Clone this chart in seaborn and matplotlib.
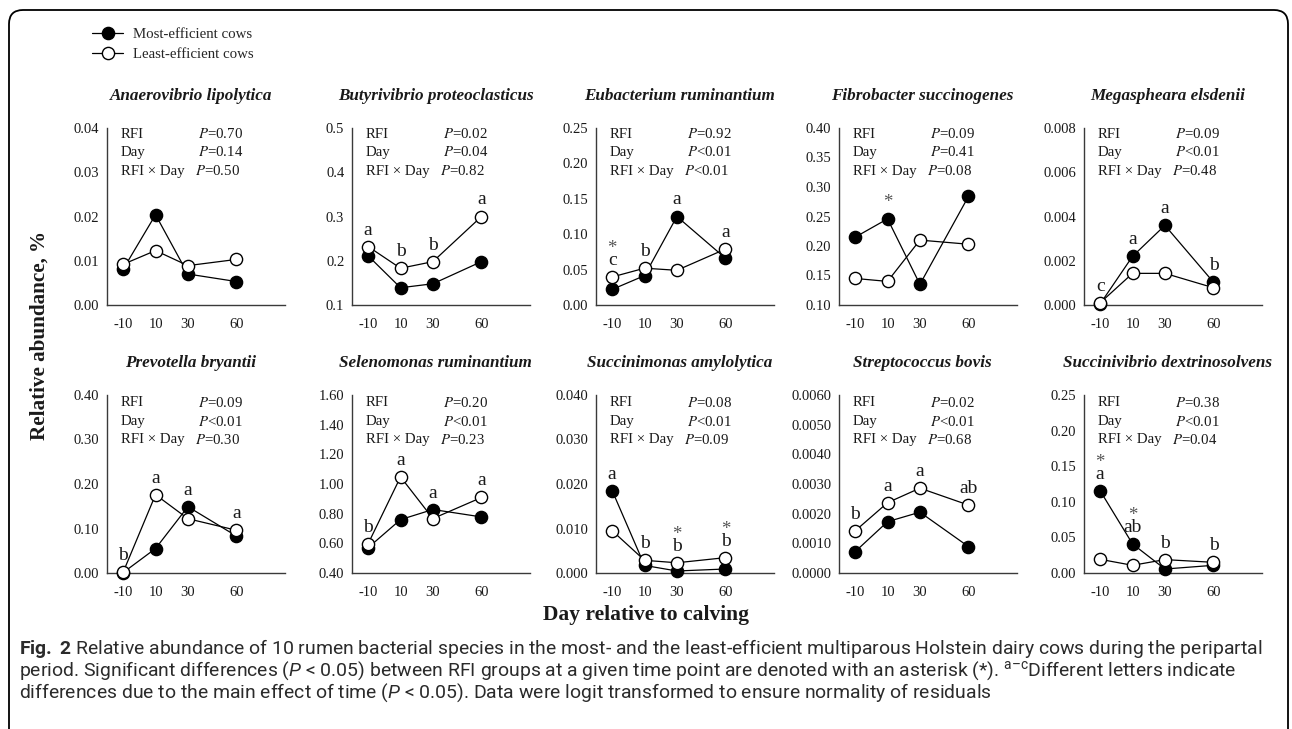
import matplotlib
matplotlib.use("Agg")
import matplotlib.pyplot as plt
from matplotlib.lines import Line2D
from matplotlib.patches import FancyBboxPatch
import seaborn as sns

# x positions (day relative to calving)
DAYS = [-10, 10, 30, 60]
DAY_LABELS = ["-10", "10", "30", "60"]

SPECIES = [
    "Anaerovibrio lipolytica",
    "Butyrivibrio proteoclasticus",
    "Eubacterium ruminantium",
    "Fibrobacter succinogenes",
    "Megaspheara elsdenii",
    "Prevotella bryantii",
    "Selenomonas ruminantium",
    "Succinimonas amylolytica",
    "Streptococcus bovis",
    "Succinivibrio dextrinosolvens",
]

# most-efficient cows (filled circles)
MOST = [
    [0.0081, 0.0204, 0.0070, 0.0053],
    [0.211, 0.139, 0.148, 0.198],
    [0.022, 0.0415, 0.125, 0.066],
    [0.215, 0.246, 0.135, 0.284],
    [0.00005, 0.0022, 0.0036, 0.00103],
    [0.001, 0.055, 0.149, 0.083],
    [0.571, 0.760, 0.828, 0.778],
    [0.0185, 0.0017, 0.00045, 0.0009],
    [0.00072, 0.00173, 0.00205, 0.00089],
    [0.1154, 0.0408, 0.0056, 0.0108],
]

# least-efficient cows (open circles)
LEAST = [
    [0.0092, 0.0123, 0.0089, 0.0103],
    [0.232, 0.183, 0.198, 0.300],
    [0.0396, 0.052, 0.049, 0.079],
    [0.145, 0.140, 0.210, 0.203],
    [0.0001, 0.00143, 0.00143, 0.00078],
    [0.002, 0.176, 0.122, 0.096],
    [0.598, 1.048, 0.767, 0.909],
    [0.0095, 0.00285, 0.0023, 0.00345],
    [0.00142, 0.00237, 0.00286, 0.00229],
    [0.0192, 0.0108, 0.0188, 0.015],
]

Y_TICKS = [
    ["0.00", "0.01", "0.02", "0.03", "0.04"],
    ["0.1", "0.2", "0.3", "0.4", "0.5"],
    ["0.00", "0.05", "0.10", "0.15", "0.20", "0.25"],
    ["0.10", "0.15", "0.20", "0.25", "0.30", "0.35", "0.40"],
    ["0.000", "0.002", "0.004", "0.006", "0.008"],
    ["0.00", "0.10", "0.20", "0.30", "0.40"],
    ["0.40", "0.60", "0.80", "1.00", "1.20", "1.40", "1.60"],
    ["0.000", "0.010", "0.020", "0.030", "0.040"],
    ["0.0000", "0.0010", "0.0020", "0.0030", "0.0040", "0.0050", "0.0060"],
    ["0.00", "0.05", "0.10", "0.15", "0.20", "0.25"],
]

STAT_NAMES = ["RFI", "Day", "RFI \u00d7 Day"]
STATS = [
    ["=0.70", "=0.14", "=0.50"],
    ["=0.02", "=0.04", "=0.82"],
    ["=0.92", "<0.01", "<0.01"],
    ["=0.09", "=0.41", "=0.08"],
    ["=0.09", "<0.01", "=0.48"],
    ["=0.09", "<0.01", "=0.30"],
    ["=0.20", "<0.01", "=0.23"],
    ["=0.08", "<0.01", "=0.09"],
    ["=0.02", "<0.01", "=0.68"],
    ["=0.38", "<0.01", "=0.04"],
]

LETTERS = [
    ["", "", "", ""],
    ["a", "b", "b", "a"],
    ["c", "b", "a", "a"],
    ["", "", "", ""],
    ["c", "a", "a", "b"],
    ["b", "a", "a", "a"],
    ["b", "a", "a", "a"],
    ["a", "b", "b", "b"],
    ["b", "a", "a", "ab"],
    ["a", "ab", "b", "b"],
]

STARS = [
    [0, 0, 0, 0],
    [0, 0, 0, 0],
    [1, 0, 0, 0],
    [0, 1, 0, 0],
    [0, 0, 0, 0],
    [0, 0, 0, 0],
    [0, 0, 0, 0],
    [0, 0, 1, 1],
    [0, 0, 0, 0],
    [1, 1, 0, 0],
]

LEGEND_LABELS = ["Most-efficient cows", "Least-efficient cows"]
X_LABEL = "Day relative to calving"
Y_LABEL = "Relative abundance, %"
CAPTION = [
    r"$\mathbf{Fig.}$ $\mathbf{2}$ Relative abundance of 10 rumen bacterial species in the most- and the "
    r"least-efficient multiparous Holstein dairy cows during the peripartal",
    r"period. Significant differences ($P$ < 0.05) between RFI groups at a given time point are denoted "
    r"with an asterisk (*). $^{\mathrm{a–c}}$Different letters indicate",
    r"differences due to the main effect of time ($P$ < 0.05). Data were logit transformed to ensure "
    r"normality of residuals",
]

sns.set_theme(style="white")
plt.rcParams["font.family"] = ["Liberation Serif", "DejaVu Serif"]
plt.rcParams["axes.unicode_minus"] = False
plt.rcParams["mathtext.fontset"] = "custom"
plt.rcParams["mathtext.rm"] = "Roboto"
plt.rcParams["mathtext.it"] = "Roboto:italic"
plt.rcParams["mathtext.bf"] = "Roboto:bold"

W, H = 1292, 729
fig = plt.figure(figsize=(W / 100, H / 100), dpi=100)

AX_LEFTS = [107, 352, 596, 839, 1084]
AX_WIDTH = 178
ROWS = [(128, 305), (395, 573)]
AXIS_COLOR = "#3a3a3a"
TEXT_COLOR = "#1a1a1a"

for i, name in enumerate(SPECIES):
    r, c = divmod(i, 5)
    top, bottom = ROWS[r]
    ax = fig.add_axes([AX_LEFTS[c] / W, 1 - bottom / H, AX_WIDTH / W, (bottom - top) / H])

    sns.lineplot(x=DAYS, y=MOST[i], ax=ax, color="black", linewidth=0.9,
                 marker="o", markersize=8.8, markerfacecolor="black",
                 markeredgecolor="black", markeredgewidth=1.0,
                 clip_on=False, zorder=3)
    sns.lineplot(x=DAYS, y=LEAST[i], ax=ax, color="black", linewidth=0.9,
                 marker="o", markersize=8.8, markerfacecolor="white",
                 markeredgecolor="black", markeredgewidth=1.0,
                 clip_on=False, zorder=4)

    yt = [float(t) for t in Y_TICKS[i]]
    ax.set_ylim(yt[0], yt[-1])
    ax.set_yticks(yt)
    ax.set_yticklabels(Y_TICKS[i])
    ax.set_xlim(-20, 90)
    ax.set_xticks(DAYS)
    ax.set_xticklabels(DAY_LABELS)
    ax.set_xlabel("")
    ax.set_ylabel("")
    ax.tick_params(axis="x", direction="in", length=4, width=0.8,
                   color=AXIS_COLOR, pad=9, labelsize=10.5, labelcolor=TEXT_COLOR)
    ax.tick_params(axis="y", length=0, pad=5.5, labelsize=10.5, labelcolor=TEXT_COLOR)
    sns.despine(ax=ax)
    for s in ["left", "bottom"]:
        ax.spines[s].set_color(AXIS_COLOR)
        ax.spines[s].set_linewidth(1.0)
    ax.patch.set_alpha(0)

    ax.set_title(name, fontstyle="italic", fontweight="bold", fontsize=12.3,
                 x=0.47, pad=20, color=TEXT_COLOR)

    # ANOVA p-values
    for k, (lab, p) in enumerate(zip(STAT_NAMES, STATS[i])):
        y_off = -6 - 18.5 * k if r == 0 else -8 - 18.5 * k
        ax.annotate(lab, xy=(0, 1), xycoords="axes fraction", xytext=(14, y_off),
                    textcoords="offset pixels", ha="left", va="center",
                    fontsize=10.7, color=TEXT_COLOR)
        ax.annotate("$P$" + p, xy=(0, 1), xycoords="axes fraction",
                    xytext=(136 - (3 if k == 2 else 0), y_off),
                    textcoords="offset pixels", ha="right", va="center",
                    fontsize=10.7, color=TEXT_COLOR, math_fontfamily="stix")

    # letters and asterisks
    for d, m, l, lt, st in zip(DAYS, MOST[i], LEAST[i], LETTERS[i], STARS[i]):
        y_top = max(m, l)
        if lt:
            ax.annotate(lt, xy=(d, y_top), xytext=(0, 16.5), textcoords="offset pixels",
                        ha="center", va="center", fontsize=14, color=TEXT_COLOR,
                        annotation_clip=False)
        if st:
            ax.annotate("*", xy=(d, y_top), xytext=(0, 28 if lt else 16),
                        textcoords="offset pixels", ha="center", va="center",
                        fontsize=13.5, color="#555555", annotation_clip=False)

# legend
handles = [
    Line2D([], [], color="black", linewidth=0.9, marker="o", markersize=8.8,
           markerfacecolor="black", markeredgecolor="black"),
    Line2D([], [], color="black", linewidth=0.9, marker="o", markersize=8.8,
           markerfacecolor="white", markeredgecolor="black"),
]
fig.legend(handles, LEGEND_LABELS, loc="upper left", bbox_to_anchor=(92 / W, 1 - 28 / H),
           frameon=False, fontsize=10.7, handlelength=2.1, handletextpad=0.65,
           labelspacing=0.42, borderpad=0, borderaxespad=0)

fig.text(40 / W, 1 - 335 / H, Y_LABEL, rotation=90, ha="center", va="center",
         fontsize=15.2, fontweight="bold", color=TEXT_COLOR)
fig.text(646 / W, 1 - 615 / H, X_LABEL, ha="center", va="center",
         fontsize=15.5, fontweight="bold", color=TEXT_COLOR)

# caption, sized so the first line spans the box
renderer = fig.canvas.get_renderer()
probe = fig.text(0, 0, CAPTION[0], fontsize=12, math_fontfamily="custom",
                 family=["Liberation Sans Narrow", "Roboto"])
cap_size = 12 * 1243 / probe.get_window_extent(renderer).width
probe.remove()
for k, line in enumerate(CAPTION):
    fig.text(19 / W, 1 - (649 + 22 * k) / H, line, ha="left", va="center",
             fontsize=cap_size, math_fontfamily="custom", color="#2b2b2b",
             family=["Liberation Sans Narrow", "Roboto"])

# rounded frame
frame = FancyBboxPatch((0.09, -0.3), 12.79, 7.49,
                       boxstyle="round,pad=0,rounding_size=0.14",
                       transform=fig.dpi_scale_trans, facecolor="none",
                       edgecolor="black", linewidth=1.3)
fig.add_artist(frame)

fig.savefig("out.png", dpi=100)
